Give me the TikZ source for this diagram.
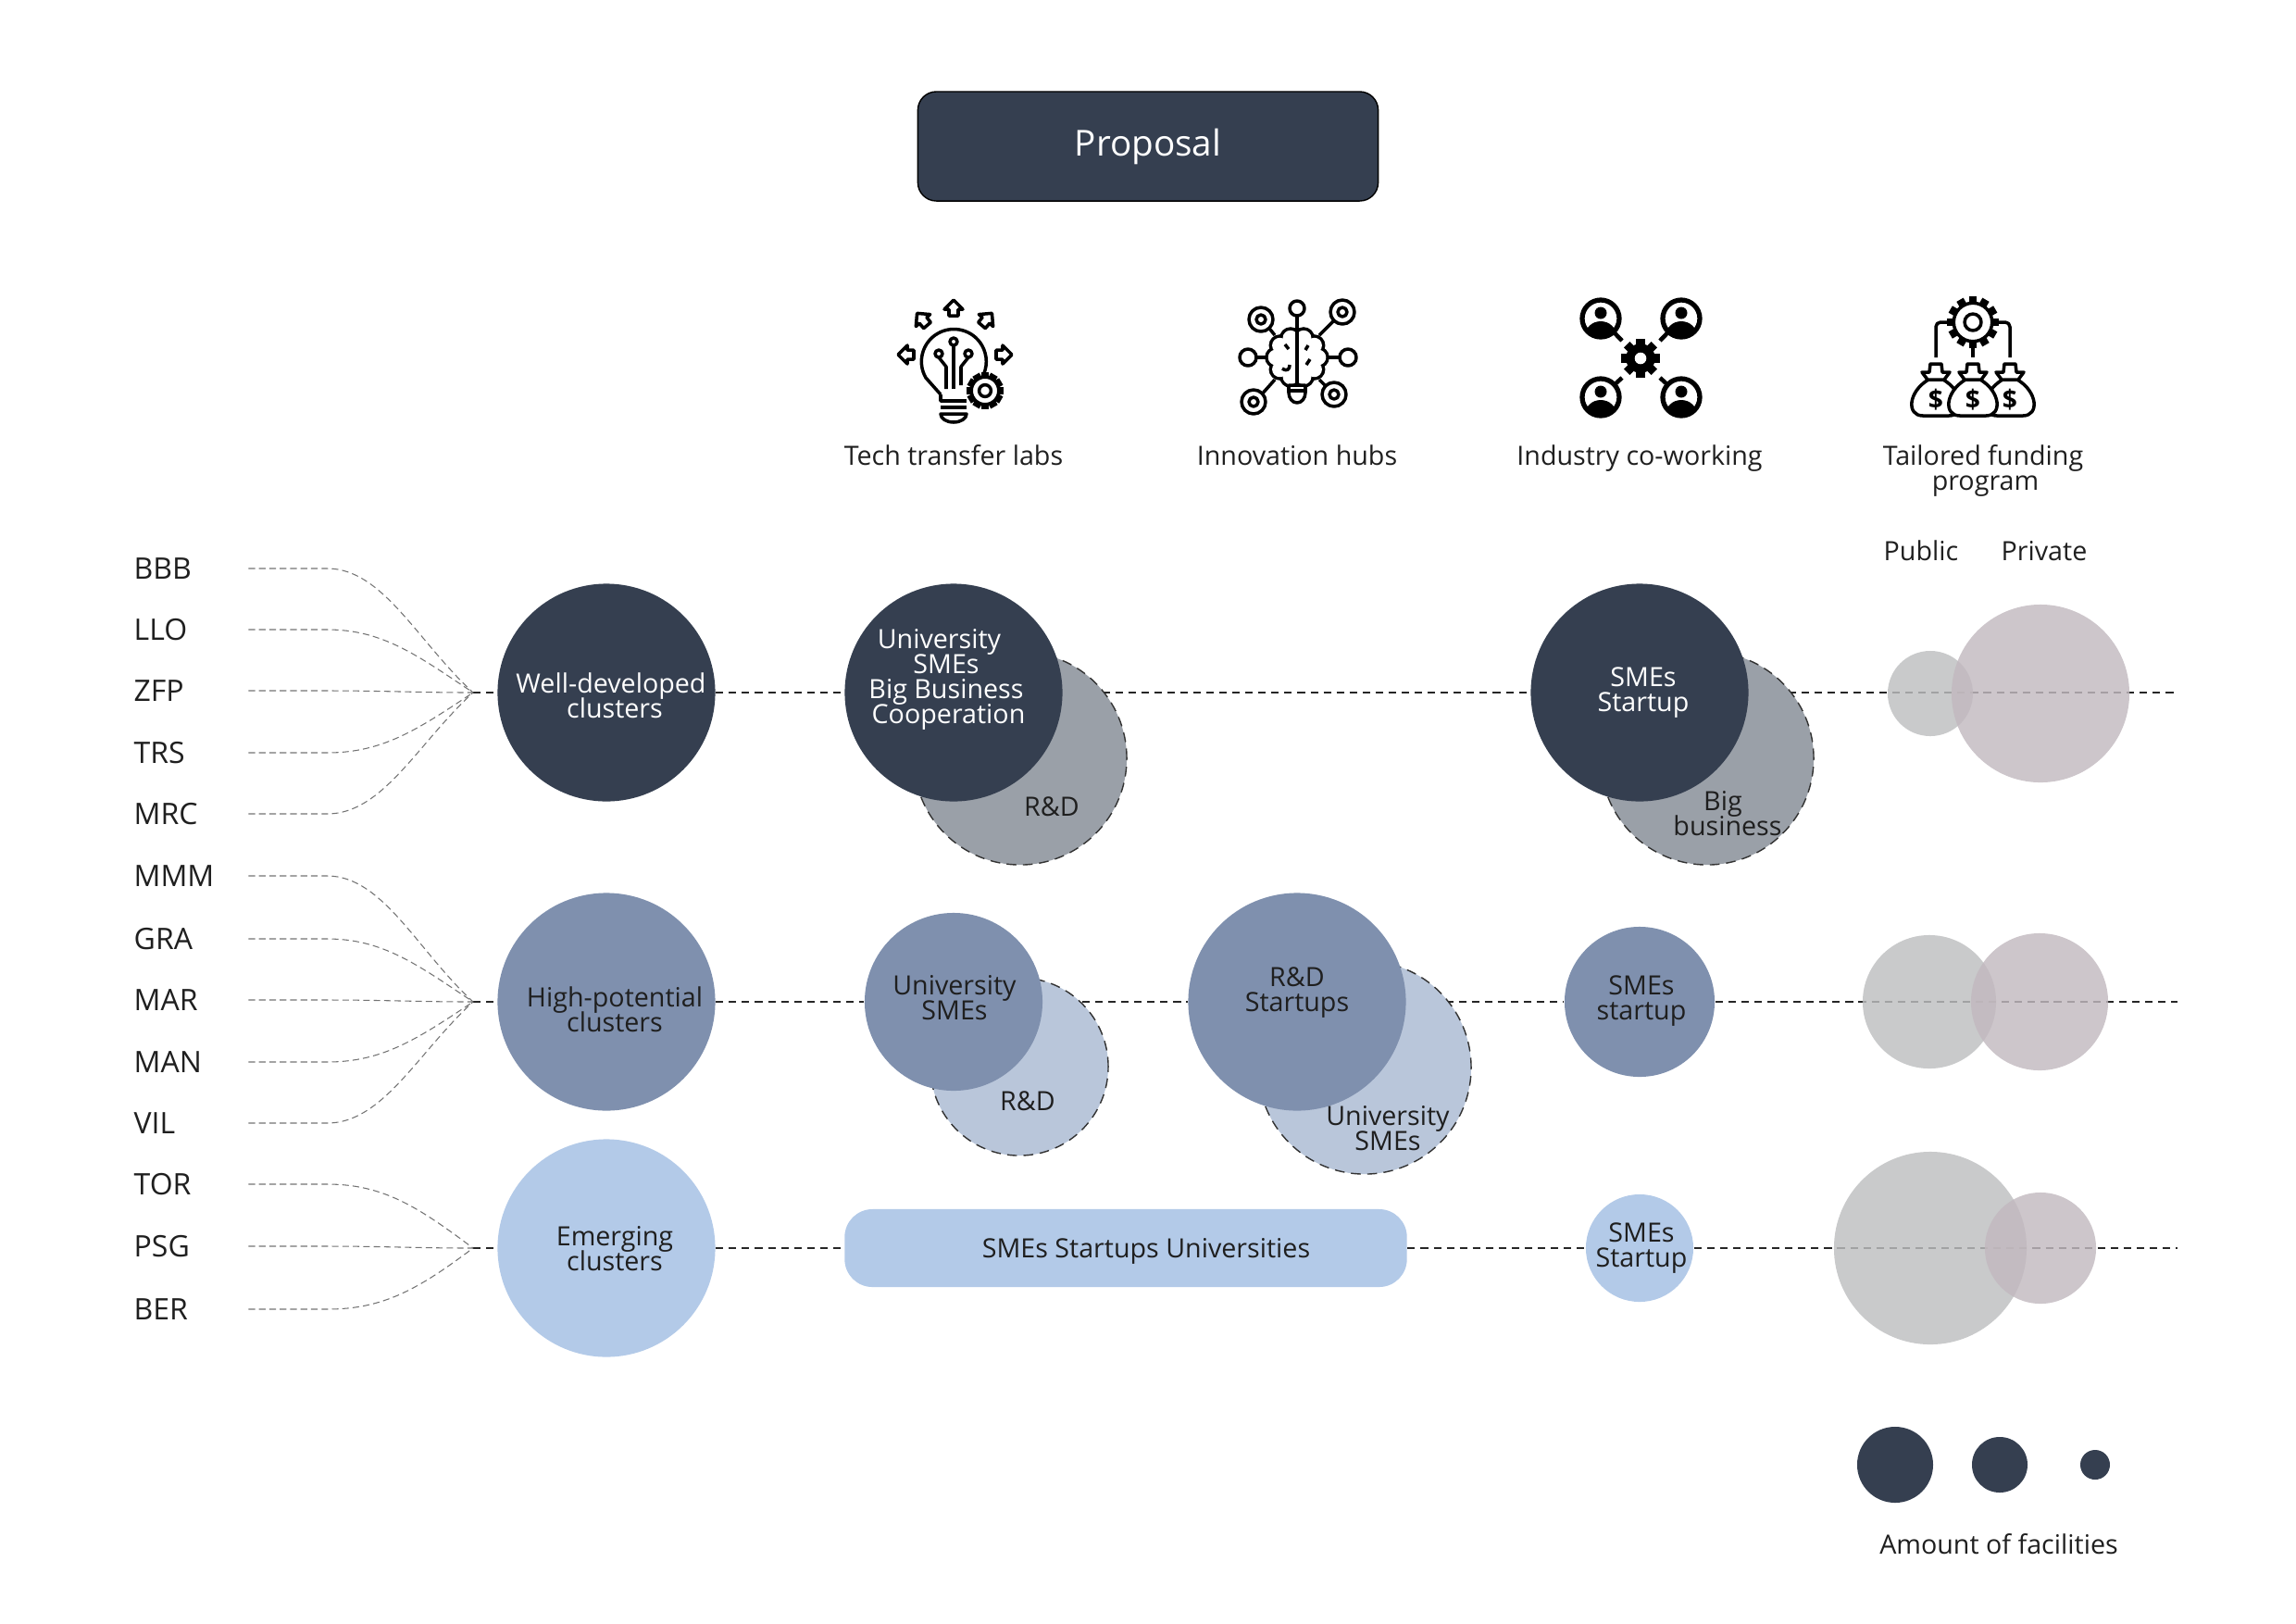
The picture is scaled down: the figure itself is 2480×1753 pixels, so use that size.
\documentclass[tikz,border=0pt]{standalone}
\usepackage{fontspec}
\setmainfont{Open Sans}
\usetikzlibrary{backgrounds}

\definecolor{navy}{HTML}{353F50}
\definecolor{steel}{HTML}{7F90AE}
\definecolor{sky}{HTML}{B3CAE8}
\definecolor{navyback}{HTML}{9AA0A8}
\definecolor{steelback}{HTML}{B9C6DA}
\definecolor{pubgrey}{HTML}{BDBEBF}
\definecolor{prvgrey}{HTML}{C2B9BF}

\tikzset{
    bub/.style={circle,inner sep=0pt,minimum size=#1},
    backbub/.style={circle,inner sep=0pt,minimum size=#1,draw=black!80,densely dashed,line width=0.4pt},
    pubbub/.style={bub=#1,fill=pubgrey,fill opacity=0.82},
    prvbub/.style={bub=#1,fill=prvgrey,fill opacity=0.82},
    txt/.style={align=center,font=\fontsize{8.15}{7.7}\selectfont,execute at begin node={\lineskiplimit=-10pt\relax},text=black!88,inner sep=0pt},
    wht/.style={txt,text=white},
    tag/.style={anchor=west,inner sep=0pt,text width=1.23cm,align=left,font=\fontsize{9.1}{11}\selectfont,text=black!88},
    feeder/.style={draw=black!55,line width=0.3pt,dash pattern=on 2pt off 1.2pt},
    rowline/.style={draw=black!85,line width=0.4pt,dash pattern=on 2.3pt off 1.7pt},
    ink/.style={line width=1pt,draw=black,line join=round},
    dollar/.style={font=\fontsize{8}{8}\selectfont\bfseries,inner sep=0pt},
    % gear with teeth, #1 is the outer radius
    pics/gear/.style={code={
        \foreach \a in {0,30,...,330}
            \draw[line width=2.4pt] (\a:#1*0.75) -- (\a:#1);
        \draw[ink,fill=white] (0,0) circle (#1*0.74);
        \draw[ink] (0,0) circle (#1*0.32);
    }},
    pics/blackgear/.style={code={
        \foreach \a in {0,45,...,315}
            \draw[line width=2.6pt] (\a:#1*0.7) -- (\a:#1);
        \fill (0,0) circle (#1*0.75);
        \fill[white] (0,0) circle (#1*0.3);
    }},
    pics/outarrow/.style={code={
        \draw[ink,fill=white] (0,-10) -- (-10,0) -- (-5,0) -- (-5,7) -- (5,7) -- (5,0) -- (10,0) -- cycle;
    }},
    pics/ring/.style={code={
        \draw[ink,fill=white] (0,0) circle (13);
        \draw[ink] (0,0) circle (5);
    }},
    pics/person/.style={code={
        \draw[line width=1.5pt,fill=white] (0,0) circle (20);
        \fill (0,-6) circle (6.5);
        \begin{scope}
            \clip (0,0) circle (20);
            \fill (0,19) ellipse (17 and 16);
        \end{scope}
    }},
    pics/moneybag/.style={code={
        \draw[ink,fill=white] (-8,-19) .. controls (-30,-6) and (-32,20) .. (-14,20) -- (14,20) .. controls (32,20) and (30,-6) .. (8,-19) -- cycle;
        \draw[ink,fill=white] (-9,-19) -- (-15,-27) -- (-7,-27) -- (-6,-36) -- (6,-36) -- (7,-27) -- (15,-27) -- (9,-19) -- cycle;
    }},
}

\begin{document}
\begin{tikzpicture}[x=0.01cm,y=-0.01cm]

    \useasboundingbox (0,0) rectangle (2480,1753);

    % title
    \node[draw=black,fill=navy,rounded corners=0.2cm,minimum width=4.97cm,minimum height=1.18cm,
        text=white,font=\fontsize{11}{13}\selectfont] (proposal) at (1240,158) {\raisebox{0.03cm}{Proposal}};

    % column heads
    \node[txt] (techhead) at (1030,492) {Tech transfer labs};
    \node[txt] (hubhead) at (1401,492) {Innovation hubs};
    \node[txt] (workhead) at (1771,495) {Industry co-working};
    \node[txt] (fundhead) at (2142,508) {Tailored funding\\\hspace{0.05cm}program};
    \node[txt] (pubhead) at (2075,595) {Public};
    \node[txt] (prvhead) at (2208,595) {Private};

    % lamp
    \begin{scope}[shift={(1030,390)}]
        \draw[ink] (-14,36) -- (-30,18) arc (-210:30:35) ;
        \draw[ink] (-14,36) -- (-14,43) -- (14,43);
        \draw[ink] (-14,50) -- (14,50);
        \draw[ink] (-14,57) arc (180:0:14 and 9) -- cycle;
        \draw[ink] (0,-17) -- (0,30);
        \draw[ink] (0,-21) circle (4);
        \draw[ink] (-16,-4) -- (-8,6) -- (-8,30);
        \draw[ink] (-16,-8) circle (4);
        \draw[ink] (16,-4) -- (8,6) -- (8,26);
        \draw[ink] (16,-8) circle (4);
        \pic at (34,32) {gear=20};
        \pic[rotate=0] at (0,-56) {outarrow};
        \pic[rotate=40] at (-33,-44) {outarrow};
        \pic[rotate=-40] at (35,-44) {outarrow};
        \pic[rotate=90] at (-50,-7) {outarrow};
        \pic[rotate=-90] at (53,-7) {outarrow};
    \end{scope}

    % brain
    \begin{scope}[shift={(1401,386)}]
        \draw[ink] (0,-44) -- (0,30);
        \draw[ink] (0,-53) circle (8);
        \draw[ink] (-30,0) -- (-44,0) (30,0) -- (46,0);
        \draw[ink] (-24,-24) -- (-33,-35) (24,-24) -- (42,-42);
        \draw[ink] (-24,24) -- (-40,42) (24,24) -- (34,34);
        \draw[ink] (-53,0) circle (9) (55,0) circle (9);
        \pic at (-39,-41) {ring};
        \pic at (49,-49) {ring};
        \pic at (-47,48) {ring};
        \pic at (40,40) {ring};
        \foreach \a in {0,36,...,324}
            \draw[line width=1.6pt] (\a:23 and 22) circle (9);
        \foreach \a in {0,36,...,324}
            \fill[white] (\a:23 and 22) circle (8.3);
        \fill[white] (0,0) ellipse (24 and 24);
        \draw[ink] (0,-28) -- (0,30);
        \draw[ink] (-13,-14) -- (-9,-9) (12,-13) -- (9,-8) (-16,12) .. controls (-10,16) and (-8,12) .. (-8,8) (14,2) -- (10,8);
        \draw[ink,fill=white] (-9,30) -- (9,30) -- (9,38) arc (0:180:9 and 11) -- cycle;
        \draw[ink] (-9,36) -- (9,36);
    \end{scope}

    % people round a wheel
    \foreach \px/\py/\qx/\qy in {1729/344/1752/368,1816/344/1793/368,1729/429/1752/408,1816/429/1793/408}
        \draw[line width=1.3pt] (\px,\py) -- (\qx,\qy);
    \pic at (1729,344) {person};
    \pic at (1816,344) {person};
    \pic at (1729,429) {person};
    \pic at (1816,429) {person};
    \pic at (1772,387) {blackgear=21};

    % funding
    \begin{scope}[shift={(2131,400)}]
        \draw[ink] (-22,-52) -- (-35,-52) arc (270:180:5) -- (-40,-14);
        \draw[ink] (22,-52) -- (35,-52) arc (-90:0:5) -- (40,-14);
        \draw[ink] (0,-30) -- (0,-14);
        \pic at (0,-52) {gear=28};
        \pic at (-40,29) {moneybag};
        \pic at (40,29) {moneybag};
        \pic at (0,29) {moneybag};
        \node[dollar] (dollara) at (-40,32) {\$};
        \node[dollar] (dollarb) at (0,32) {\$};
        \node[dollar] (dollarc) at (40,32) {\$};
    \end{scope}

    % left column
    \foreach \name/\lab/\y in {bbb/BBB/614,llo/LLO/680,zfp/ZFP/746,trs/TRS/813,mrc/MRC/879,
        mmm/MMM/946,gra/GRA/1014,mar/MAR/1080,man/MAN/1147,vil/VIL/1213,
        tor/TOR/1279,psg/PSG/1346,ber/BER/1414}
        \node[tag] (\name) at (144,\y) {\lab};

    \coordinate (hubw) at (511,748);
    \coordinate (hubh) at (511,1082);
    \coordinate (hube) at (511,1348);
    \coordinate (endw) at (2352,748);
    \coordinate (endh) at (2352,1082);
    \coordinate (ende) at (2352,1348);

    \foreach \name/\hub/\dy in {bbb/hubw/-55,llo/hubw/-40,zfp/hubw/0,trs/hubw/40,mrc/hubw/55,
        mmm/hubh/-55,gra/hubh/-40,mar/hubh/0,man/hubh/40,vil/hubh/55,
        tor/hube/-45,psg/hube/0,ber/hube/45}
        \draw[feeder] (\name.east) -- ++(85,0) .. controls +(60,0) and +(-60,\dy) .. (\hub);

    % first row
    \node[bub=2.35cm,fill=navy] (wdc) at (655,748) {};
    \node[wht] (wdctxt) at (660,751) {Well-developed\\\hspace{0.08cm}clusters};
    \node[backbub=2.3cm,fill=navyback] (rdw) at (1102,819) {};
    \node[bub=2.35cm,fill=navy] (ttw) at (1030,748) {};
    \node[wht] (ttwtxt) at (1022,734) {\hspace{-0.15cm}University\\SMEs\\Big Business\\\hspace{0.05cm}Cooperation};
    \node[txt] (rdwtxt) at (1136,871) {R\&D};
    \node[backbub=2.3cm,fill=navyback] (bigw) at (1844,819) {};
    \node[bub=2.35cm,fill=navy] (cow) at (1771,748) {};
    \node[wht] (cowtxt) at (1775,748) {SMEs\\Startup};
    \node[txt] (bigwtxt) at (1861,879) {Big\\\hspace{0.1cm}business};
    \node[pubbub=0.92cm] (pubw) at (2085,749) {};
    \node[prvbub=1.92cm] (prvw) at (2204,749) {};

    % second row
    \node[bub=2.35cm,fill=steel] (hpc) at (655,1082) {};
    \node[txt] (hpctxt) at (664,1090) {High-potential\\clusters};
    \node[backbub=1.92cm,fill=steelback] (rdh) at (1101,1152) {};
    \node[bub=1.92cm,fill=steel] (tth) at (1030,1082) {};
    \node[txt] (tthtxt) at (1031,1078) {University\\SMEs};
    \node[txt] (rdhtxt) at (1110,1189) {R\&D};
    \node[backbub=2.3cm,fill=steelback] (unih) at (1474,1153) {};
    \node[bub=2.35cm,fill=steel] (inh) at (1401,1082) {};
    \node[txt] (inhtxt) at (1401,1072) {R\&D\\Startups};
    \node[txt] (unihtxt) at (1499,1219) {University\\SMEs};
    \node[bub=1.62cm,fill=steel] (coh) at (1771,1082) {};
    \node[txt] (cohtxt) at (1773,1081) {SMEs\\startup};
    \node[pubbub=1.44cm] (pubh) at (2084,1082) {};
    \node[prvbub=1.48cm] (prvh) at (2203,1082) {};

    % third row
    \node[bub=2.35cm,fill=sky] (emc) at (655,1348) {};
    \node[txt] (emctxt) at (664,1349) {Emerging\\clusters};
    \node[fill=sky,rounded corners=0.3cm,minimum width=6.07cm,minimum height=0.84cm,inner sep=0pt] (pill) at (1216,1348) {};
    \node[txt] (pilltxt) at (1238,1351) {SMEs Startups Universities};
    \node[bub=1.16cm,fill=sky] (coe) at (1771,1348) {};
    \node[txt] (coetxt) at (1773,1348) {SMEs\\Startup};
    \node[pubbub=2.08cm] (pube) at (2085,1348) {};
    \node[prvbub=1.2cm] (prve) at (2204,1348) {};

    % row lines
    \begin{scope}[on background layer]
        \draw[rowline] (hubw) -- (wdc);
        \draw[rowline] (wdc) -- (ttw);
        \draw[rowline] (ttw) -- (cow);
        \draw[rowline] (cow) -- (endw);
        \draw[rowline] (hubh) -- (hpc);
        \draw[rowline] (hpc) -- (tth);
        \draw[rowline] (tth) -- (inh);
        \draw[rowline] (inh) -- (coh);
        \draw[rowline] (coh) -- (endh);
        \draw[rowline] (hube) -- (emc);
        \draw[rowline] (emc) -- (pill);
        \draw[rowline] (pill) -- (coe);
        \draw[rowline] (coe) -- (ende);
    \end{scope}

    % size key
    \node[bub=0.82cm,fill=navy] (keybig) at (2047,1582) {};
    \node[bub=0.6cm,fill=navy] (keymid) at (2160,1582) {};
    \node[bub=0.32cm,fill=navy] (keysmall) at (2263,1582) {};
    \node[txt] (keytxt) at (2159,1668) {Amount of facilities};

\end{tikzpicture}
\end{document}
